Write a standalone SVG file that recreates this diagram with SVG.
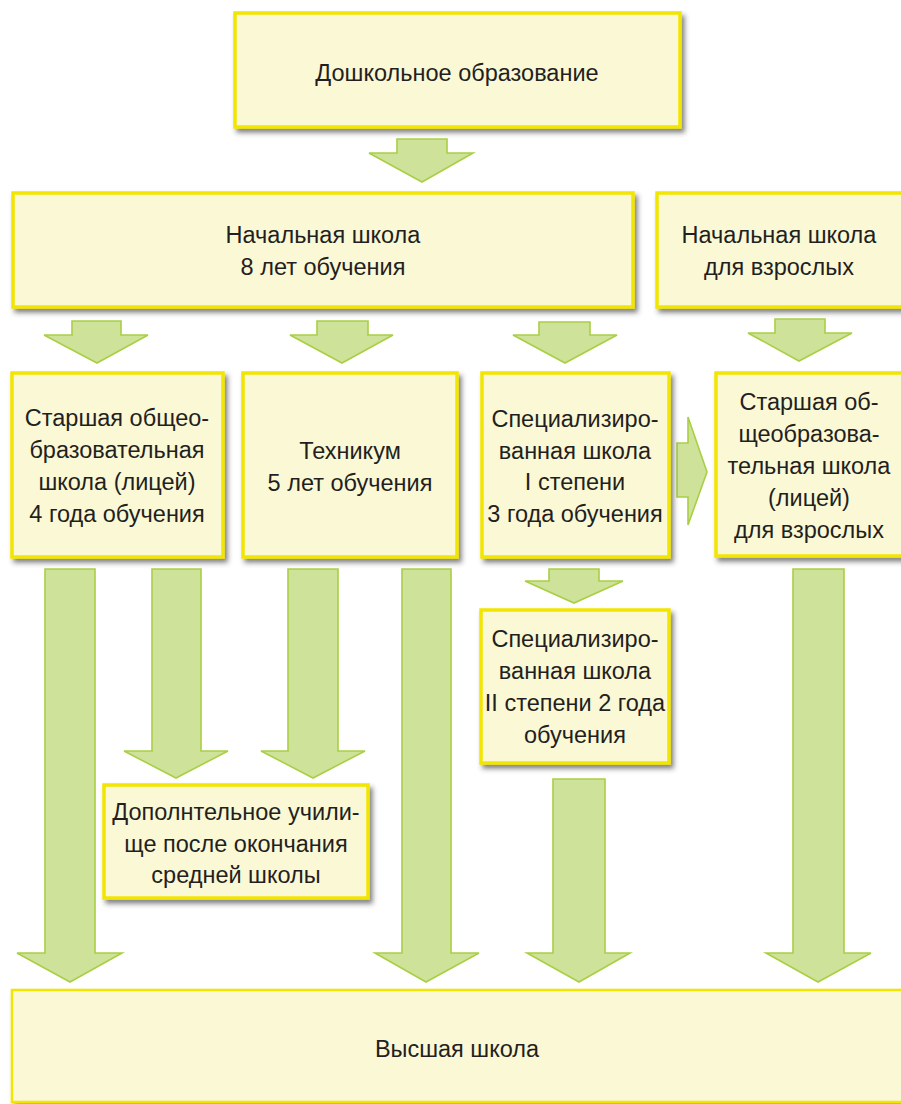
<svg xmlns="http://www.w3.org/2000/svg" width="901" height="1104" viewBox="0 0 901 1104">
<defs>
<filter id="sh" x="-10%" y="-10%" width="130%" height="130%">
<feDropShadow dx="3" dy="4" stdDeviation="2.5" flood-color="#333" flood-opacity="0.6"/>
</filter>
<style>
.box{fill:#fbf8d6;stroke:#f2e500;stroke-width:3.5;filter:url(#sh)}
.arr{fill:#cfe29a;stroke:#a9cf45;stroke-width:1.6;stroke-linejoin:miter}
text{font-family:"Liberation Sans",Arial,sans-serif;font-size:23.5px;fill:#231f20;text-anchor:middle}
</style>
</defs>
<rect width="901" height="1104" fill="#ffffff"/>
<g id="connectors">
<polygon class="arr" points="397,139 447,139 447,153 473,153 422,182 369,153 397,153"/>
<polygon class="arr" points="72,321 121,321 121,335 148,335 97,363 44,335 72,335"/>
<polygon class="arr" points="317,321 368,321 368,335 393,335 342,363 290,335 317,335"/>
<polygon class="arr" points="539,322 590,322 590,335 617,335 565,363 513,335 539,335"/>
<polygon class="arr" points="775,319 825,319 825,333 852,333 799,361 748,333 775,333"/>
<polygon class="arr" points="45,569 95,569 95,953 122,953 70,982 17,953 45,953"/>
<polygon class="arr" points="152,569 201,569 201,751 228,751 176,778 124,751 152,751"/>
<polygon class="arr" points="288,569 338,569 338,751 365,751 313,778 261,751 288,751"/>
<polygon class="arr" points="402,569 451,569 451,953 479,953 426,982 375,953 402,953"/>
<polygon class="arr" points="549,569 599,569 599,581 623,581 574,603 525,581 549,581"/>
<polygon class="arr" points="553,779 605,779 605,953 630,953 579,982 527,953 553,953"/>
<polygon class="arr" points="793,569 844,569 844,953 871,953 818,982 766,953 793,953"/>
<polygon class="arr" points="677,443 688,443 688,417 707,472 688,525 688,497 677,497"/>
</g>
<g id="preschool">
<rect class="box" x="235" y="13" width="445" height="114"/>
<text x="457" y="81">Дошкольное образование</text>
</g>
<g id="primary">
<rect class="box" x="13" y="193" width="620" height="114"/>
<text x="323" y="243">Начальная школа</text>
<text x="323" y="275">8 лет обучения</text>
</g>
<g id="primary-adults">
<rect class="box" x="657" y="193" width="250" height="114"/>
<text x="779" y="243">Начальная школа</text>
<text x="779" y="275">для взрослых</text>
</g>
<g id="lyceum">
<rect class="box" x="12" y="373" width="211" height="184"/>
<text x="117" y="426">Старшая общео-</text>
<text x="117" y="458">бразовательная</text>
<text x="117" y="490">школа (лицей)</text>
<text x="117" y="522">4 года обучения</text>
</g>
<g id="technikum">
<rect class="box" x="243" y="373" width="214" height="184"/>
<text x="350" y="459">Техникум</text>
<text x="350" y="491">5 лет обучения</text>
</g>
<g id="special-1">
<rect class="box" x="482" y="373" width="187" height="184"/>
<text x="575" y="427">Специализиро-</text>
<text x="575" y="459">ванная школа</text>
<text x="575" y="490">I степени</text>
<text x="575" y="522">3 года обучения</text>
</g>
<g id="lyceum-adults">
<rect class="box" x="716" y="373" width="191" height="183"/>
<text x="809" y="410">Старшая об-</text>
<text x="809" y="442">щеобразова-</text>
<text x="809" y="474">тельная школа</text>
<text x="809" y="506">(лицей)</text>
<text x="809" y="538">для взрослых</text>
</g>
<g id="special-2">
<rect class="box" x="481" y="610" width="188" height="153"/>
<text x="575" y="647">Специализиро-</text>
<text x="575" y="679">ванная школа</text>
<text x="575" y="711">II степени 2 года</text>
<text x="575" y="743">обучения</text>
</g>
<g id="vocational">
<rect class="box" x="104" y="785" width="264" height="113"/>
<text x="236" y="820">Дополнтельное учили-</text>
<text x="236" y="852">ще после окончания</text>
<text x="236" y="883">средней школы</text>
</g>
<g id="higher">
<rect class="box" x="12" y="990" width="900" height="112" style="stroke-width:2.5"/>
<text x="457" y="1057">Высшая школа</text>
</g>
</svg>
